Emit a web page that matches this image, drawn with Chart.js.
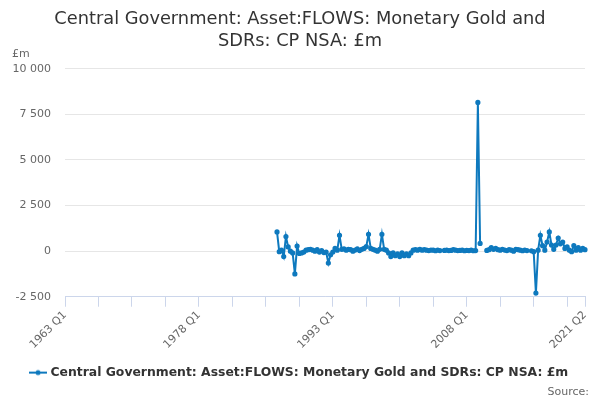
<!DOCTYPE html>
<html>
<head>
<meta charset="utf-8">
<script src="https://cdn.jsdelivr.net/npm/chart.js@4"></script>
<style>
  html, body { margin: 0; padding: 0; background: #fff; }
  #wrap { width: 600px; height: 400px; }
</style>
</head>
<body>
<div id="wrap"><canvas id="chart"></canvas></div>
<script>
// quarters 1963 Q1 .. 2021 Q2
const firstYear = 1963
const quarterCount = 234
const quarters = []
for (let i = 0; i < quarterCount; i++) {
  quarters.push((firstYear + Math.floor(i / 4)) + ' Q' + (i % 4 + 1))
}

// series starts at 1986 Q4 (nothing published before that)
const seriesStart = '1986 Q4'
const values = [
  1050, -30, 50, -300, 800, 230, 0, -100, -1250, 280,
  -130, -100, -50, 50, 80, 100, 50, 0, 80, -50,
  30, -80, -50, -650, -200, -50, 150, 50, 870, 100,
  120, 50, 100, 80, 0, 60, 120, 30, 100, 150,
  250, 920, 150, 100, 50, 0, 100, 920, 100, 50,
  -100, -300, -100, -250, -150, -300, -100, -250, -150, -250,
  -100, 50, 80, 50, 100, 50, 80, 50, 30, 60,
  50, 20, 60, 30, null, 40, 60, 30, 40, 80,
  50, 30, 40, 60, 20, 40, 30, 50, 20, 30,
  8150, 420, null, null, 40, 80, 200, 100, 150, 80,
  50, 100, 60, 30, 80, 50, 0, 100, 80, 50,
  20, 60, 30, null, 20, -30, -2300, 50, 870, 300,
  50, 500, 1050, 330, 100, 330, 720, 400, 500, 150,
  230, 50, -30, 300, 50, 200, 50, 150, 80
]

const yTicks = [-2500, 0, 2500, 5000, 7500, 10000]
const seriesName = 'Central Government: Asset:FLOWS: Monetary Gold and SDRs: CP NSA: £m'

const startIdx = quarters.indexOf(seriesStart)
const series = quarters.map((q, i) => {
  const v = values[i - startIdx]
  return v === undefined ? null : v
})

const blue = '#0e79be'
const font = "'DejaVu Sans', sans-serif"

// legend symbol: short line with a dot in the middle
const legendIcon = document.createElement('canvas')
legendIcon.width = 18
legendIcon.height = 8
const ic = legendIcon.getContext('2d')
ic.strokeStyle = blue
ic.lineWidth = 2
ic.beginPath(); ic.moveTo(0, 4); ic.lineTo(18, 4); ic.stroke()
ic.fillStyle = blue
ic.beginPath(); ic.arc(9, 4, 2.5, 0, Math.PI * 2); ic.fill()

const unitLabel = {
  id: 'unitLabel',
  afterDraw(chart) {
    const ctx = chart.ctx
    ctx.save()
    ctx.font = '11px ' + font
    ctx.fillStyle = '#666666'
    ctx.textBaseline = 'middle'
    ctx.fillText('£m', 12, chart.chartArea.top - 15)
    ctx.restore()
  }
}

const lastIdx = quarterCount - 1

const config = {
  type: 'line',
  data: {
    labels: quarters,
    datasets: [
      {
        label: seriesName,
        data: series,
        borderColor: blue,
        backgroundColor: blue,
        borderWidth: 2,
        pointRadius: 1.6,
        pointHoverRadius: 3,
        spanGaps: false,
        tension: 0,
      },
    ],
  },
  options: {
    responsive: true,
    maintainAspectRatio: false,
    animation: false,
    layout: { padding: { left: 4, right: 4, top: 4, bottom: 0 } },
    plugins: {
      title: {
        display: true,
        text: ['Central Government: Asset:FLOWS: Monetary Gold and', 'SDRs: CP NSA: £m'],
        color: '#333333',
        font: { family: font, size: 17.8, weight: 'normal' },
        padding: { top: 5, bottom: 17 },
      },
      legend: {
        position: 'bottom',
        labels: {
          color: '#333333',
          font: { family: font, size: 12.4, weight: 'bold' },
          usePointStyle: true,
          pointStyle: legendIcon,
          padding: 13,
        },
      },
      subtitle: {
        display: true,
        position: 'bottom',
        align: 'end',
        text: 'Source:\u00a0\u00a0',
        color: '#666666',
        font: { family: font, size: 11 },
        padding: { top: -3, bottom: 1 },
      },
      tooltip: { enabled: false },
    },
    scales: {
      x: {
        type: 'category',
        offset: false,
        afterBuildTicks(scale) {
          scale.ticks = scale.ticks.filter(t => t.value % 15 === 0 || t.value === lastIdx)
        },
        ticks: {
          autoSkip: false,
          minRotation: 45,
          maxRotation: 45,
          color: '#666666',
          font: { family: font, size: 11 },
          padding: 2,
          callback: (v) => (v % 60 === 0 || v === lastIdx) ? quarters[v] : '',
        },
        grid: {
          display: true,
          drawOnChartArea: false,
          color: '#ccd6eb',
          tickLength: 10,
        },
        border: { display: true, color: '#ccd6eb' },
      },
      y: {
        min: -2500,
        max: 10000,
        afterBuildTicks(scale) {
          scale.ticks = yTicks.map(v => ({ value: v }))
        },
        ticks: {
          color: '#666666',
          font: { family: font, size: 11 },
          padding: 14,
          callback: (v) => String(v).replace(/\B(?=(\d{3})+(?!\d))/g, ' '),
        },
        grid: { color: '#e6e6e6', drawTicks: false },
        border: { display: false },
        afterFit(scale) { scale.width = 61 },
      },
      // empty right-hand gutter so the plot stops short of the edge
      gutter: {
        type: 'linear',
        position: 'right',
        display: true,
        grid: { display: false },
        ticks: { display: false },
        border: { display: false },
        afterFit(scale) { scale.width = 11 },
      },
    },
  },
  plugins: [unitLabel],
}

const ctx = document.getElementById('chart')
window.myChart = new Chart(ctx, config)
</script>
</body>
</html>
